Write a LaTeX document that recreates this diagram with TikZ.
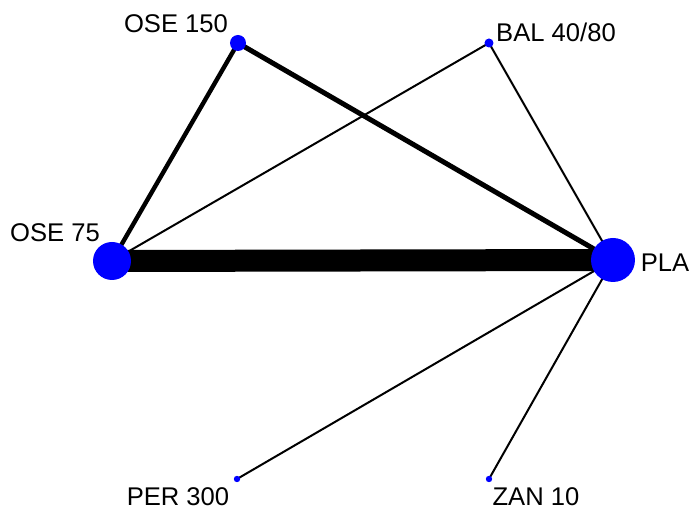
\documentclass[tikz,border=0pt]{standalone}
\usepackage{fontspec}
\setmainfont{Liberation Sans}
\usetikzlibrary{backgrounds}
\begin{document}
\begin{tikzpicture}[x=0.5pt,y=-0.5pt,
  vertex/.style={circle,fill=blue,draw=none,inner sep=0pt,minimum size=#1},
  lbl/.style={inner sep=0pt,font=\fontsize{12.8}{15}\selectfont},
  link/.style={draw=black,line width=#1}]
  \useasboundingbox (0,0) rectangle (693,513);
  % treatments
  \node[vertex=8pt]  (ose150) at (238,43) {};
  \node[vertex=4.5pt] (bal)   at (489,43) {};
  \node[vertex=19pt] (ose75)  at (112,261) {};
  \node[vertex=22pt] (pla)    at (613,260) {};
  \node[vertex=3.2pt] (per)   at (237,479) {};
  \node[vertex=3.2pt] (zan)   at (489,479) {};
  % treatment names
  \node[lbl] (tose150) at (176,24) {OSE 150};
  \node[lbl] (tbal)    at (556,32) {BAL 40/80};
  \node[lbl] (tose75)  at (55,233) {OSE 75};
  \node[lbl] (tpla)    at (665,263) {PLA};
  \node[lbl] (tper)    at (178,497) {PER 300};
  \node[lbl] (tzan)    at (536,497) {ZAN 10};
  % comparisons, width by number of trials
  \begin{pgfonlayer}{background}
    \draw[link=11pt]  (ose75.center) -- (pla.center);
    \draw[link=2.5pt] (ose150.center) -- (pla.center);
    \draw[link=2.2pt] (ose150.center) -- (ose75.center);
    \draw[link=1pt]   (bal.center) -- (ose75.center);
    \draw[link=1pt]   (bal.center) -- (pla.center);
    \draw[link=1pt]   (per.center) -- (pla.center);
    \draw[link=1pt]   (zan.center) -- (pla.center);
  \end{pgfonlayer}
\end{tikzpicture}
\end{document}
